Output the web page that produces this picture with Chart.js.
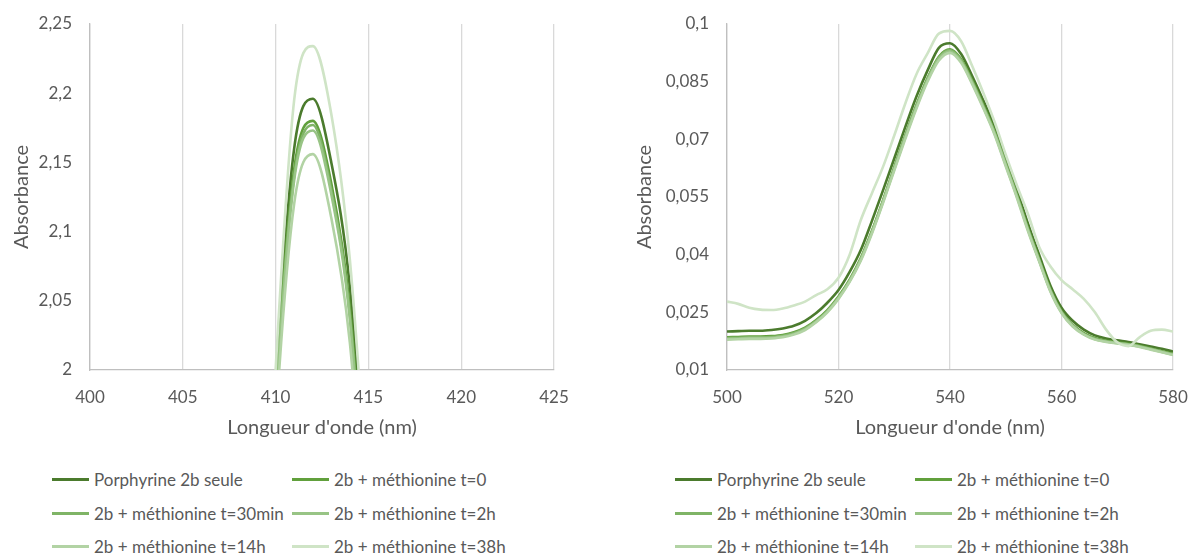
<!DOCTYPE html>
<html>
<head>
<meta charset="utf-8">
<script src="https://cdn.jsdelivr.net/npm/chart.js@4.4.1/dist/chart.umd.min.js"></script>
<style>
    body { margin: 0; background: #fff; font-family: Lato, sans-serif; }
    #page { position: relative; width: 1190px; height: 556px; overflow: hidden; }
    .box { position: absolute; top: 0; width: 595px; height: 445px; }
    .legend { position: absolute; display: grid; grid-template-columns: 240px 240px; grid-auto-rows: 33.5px; color: #595959; font-size: 17px; }
    .item { display: flex; align-items: center; white-space: nowrap; }
    .swatch { display: inline-block; width: 37px; height: 3px; margin-right: 5px; }
</style>
</head>
<body>
<div id="page">
    <div class="box" style="left:0"><canvas id="soretChart" width="595" height="445"></canvas></div>
    <div class="box" style="left:595px"><canvas id="qChart" width="595" height="445"></canvas></div>
    <div class="legend" id="soretLegend" style="left:52px; top:463px"></div>
    <div class="legend" id="qLegend" style="left:675px; top:463px"></div>
</div>
<script>
// series names + colours (same for both charts)
const seriesNames = ['Porphyrine 2b seule', '2b + méthionine t=0', '2b + méthionine t=30min',
    '2b + méthionine t=2h', '2b + méthionine t=14h', '2b + méthionine t=38h'];
const seriesColors = ['#4b7b2d', '#61a03c', '#7fb466', '#98c485', '#b2d3a4', '#cfe4c6'];

// Soret band (left) - wavelengths in nm
const soretX = [409, 410, 411, 412, 413, 414, 415];
const soretSeule = [1.72, 1.99, 2.16, 2.196, 2.15, 2.06, 1.88];
const soretT0 = [1.71, 1.98, 2.145, 2.180, 2.135, 2.045, 1.87];
const soretT30 = [1.70, 1.975, 2.14, 2.177, 2.13, 2.04, 1.865];
const soretT2h = [1.70, 1.97, 2.137, 2.173, 2.127, 2.037, 1.86];
const soretT14h = [1.69, 1.96, 2.12, 2.156, 2.11, 2.02, 1.85];
const soretT38h = [1.73, 2.0, 2.195, 2.234, 2.185, 2.08, 1.90];
const soretXTicks = [400, 405, 410, 415, 420, 425];
const soretYTicks = [2, 2.05, 2.1, 2.15, 2.2, 2.25];

// Q band (right)
const qX = [500, 502, 504, 506, 508, 510, 512, 514, 516, 518, 520, 522, 524, 526, 528, 530, 532, 534, 536, 538, 540,
    542, 544, 546, 548, 550, 552, 554, 556, 558, 560, 562, 564, 566, 568, 570, 572, 574, 576, 578, 580];
const qSeule = [0.0200, 0.0201, 0.0202, 0.0202, 0.0204, 0.0208, 0.0215, 0.0228, 0.0248, 0.0275, 0.0308, 0.0355, 0.0412, 0.0488,
    0.0568, 0.0650, 0.0733, 0.0812, 0.0880, 0.0938, 0.0950, 0.0922, 0.0864, 0.0800, 0.0734, 0.0650, 0.0569, 0.0480,
    0.0399, 0.0320, 0.0262, 0.0228, 0.0205, 0.0190, 0.0182, 0.0177, 0.0173, 0.0167, 0.0161, 0.0155, 0.0148];
const qT0 = [0.0185, 0.0186, 0.0187, 0.0187, 0.0188, 0.0191, 0.0198, 0.0210, 0.0230, 0.0256, 0.0291, 0.0335, 0.0391, 0.0462,
    0.0542, 0.0627, 0.0711, 0.0790, 0.0860, 0.0915, 0.0934, 0.0908, 0.0852, 0.0788, 0.0720, 0.0638, 0.0556, 0.0468,
    0.0388, 0.0310, 0.0253, 0.0218, 0.0196, 0.0183, 0.0176, 0.0172, 0.0168, 0.0163, 0.0156, 0.0149, 0.0142];
const qT30 = [0.0183, 0.0184, 0.0185, 0.0185, 0.0186, 0.0189, 0.0196, 0.0208, 0.0228, 0.0254, 0.0289, 0.0333, 0.0389, 0.0460,
    0.0540, 0.0625, 0.0709, 0.0788, 0.0858, 0.0913, 0.0932, 0.0906, 0.0850, 0.0786, 0.0718, 0.0636, 0.0554, 0.0466,
    0.0386, 0.0308, 0.0251, 0.0216, 0.0194, 0.0181, 0.0175, 0.0171, 0.0167, 0.0162, 0.0155, 0.0148, 0.0141];
const qT2h = [0.0181, 0.0182, 0.0183, 0.0183, 0.0184, 0.0187, 0.0194, 0.0206, 0.0226, 0.0252, 0.0287, 0.0331, 0.0387, 0.0458,
    0.0538, 0.0622, 0.0706, 0.0785, 0.0855, 0.0910, 0.0929, 0.0903, 0.0847, 0.0783, 0.0715, 0.0633, 0.0551, 0.0464,
    0.0384, 0.0306, 0.0250, 0.0215, 0.0193, 0.0180, 0.0174, 0.0170, 0.0166, 0.0161, 0.0154, 0.0147, 0.0140];
const qT14h = [0.0179, 0.0180, 0.0181, 0.0181, 0.0182, 0.0185, 0.0192, 0.0204, 0.0224, 0.0250, 0.0285, 0.0329, 0.0384, 0.0455,
    0.0535, 0.0619, 0.0702, 0.0781, 0.0851, 0.0905, 0.0925, 0.0899, 0.0843, 0.0780, 0.0712, 0.0630, 0.0548, 0.0461,
    0.0382, 0.0304, 0.0248, 0.0213, 0.0192, 0.0179, 0.0173, 0.0169, 0.0165, 0.0160, 0.0153, 0.0146, 0.0139];
const q38h = [0.0278, 0.0272, 0.0262, 0.0257, 0.0256, 0.0260, 0.0268, 0.0278, 0.0295, 0.0310, 0.0340, 0.0400, 0.0490, 0.0560,
    0.0629, 0.0710, 0.0794, 0.0870, 0.0924, 0.0975, 0.0982, 0.0955, 0.0890, 0.0820, 0.0745, 0.0660, 0.0580, 0.0505,
    0.0420, 0.0370, 0.0334, 0.0310, 0.0285, 0.0250, 0.0205, 0.0172, 0.0162, 0.0185, 0.0202, 0.0205, 0.0200];
const qXTicks = [500, 520, 540, 560, 580];
const qYTicks = [0.01, 0.025, 0.04, 0.055, 0.07, 0.085, 0.1];

const textColor = '#595959';
const fmt = v => String(Number(v.toFixed(3))).replace('.', ',');

function makeDatasets(xs, seriesList) {
    return seriesList.map((vals, i) => ({
        label: seriesNames[i],
        data: xs.map((x, j) => ({ x: x, y: vals[j] })),
        borderColor: seriesColors[i],
        backgroundColor: seriesColors[i],
        borderWidth: 2.6,
        pointRadius: 0,
        cubicInterpolationMode: 'monotone',
        fill: false,
        order: seriesList.length - i
    }));
}

function makeChart(canvasId, datasets, xr, yr, xTicks, yTicks, yWidth, padRight, titleOffset) {
    return new Chart(document.getElementById(canvasId), {
        type: 'line',
        data: { datasets: datasets },
        options: {
            responsive: false,
            animation: false,
            layout: { padding: { top: 24, right: padRight, bottom: 0, left: 0 } },
            plugins: { legend: { display: false }, tooltip: { enabled: false } },
            scales: {
                x: {
                    type: 'linear', min: xr[0], max: xr[1],
                    afterBuildTicks: a => { a.ticks = xTicks.map(v => ({ value: v })); },
                    afterFit: s => { s.height = 75; s.paddingLeft = 0; s.paddingRight = 0; },
                    grid: { color: '#d9d9d9', lineWidth: 1.3, drawTicks: false },
                    border: { color: '#bfbfbf', width: 1.3 },
                    ticks: { color: textColor, padding: 17, font: { family: 'Lato', size: 17 }, maxRotation: 0, callback: v => fmt(v) },
                    title: { display: true, text: "Longueur d'onde (nm)", color: textColor, font: { family: 'Lato', size: 20 }, padding: { top: 0, bottom: 5 } }
                },
                y: {
                    min: yr[0], max: yr[1],
                    afterBuildTicks: a => { a.ticks = yTicks.map(v => ({ value: v })); },
                    afterFit: s => { s.width = yWidth; s.paddingTop = 0; s.paddingBottom = 0; },
                    grid: { display: false, drawTicks: false },
                    border: { display: true, color: '#bfbfbf', width: 1.3 },
                    ticks: { color: textColor, padding: 18, font: { family: 'Lato', size: 17 }, callback: v => fmt(v) },
                    title: { display: true, text: 'Absorbance', color: textColor, font: { family: 'Lato', size: 20 }, padding: { top: titleOffset, bottom: 0 } }
                }
            }
        }
    });
}

function buildLegend(id) {
    const el = document.getElementById(id);
    el.innerHTML = seriesNames
        .map((name, i) => `<div class="item"><span class="swatch" style="background:${seriesColors[i]}"></span>${name}</div>`)
        .join('');
}

makeChart('soretChart', makeDatasets(soretX, [soretSeule, soretT0, soretT30, soretT2h, soretT14h, soretT38h]),
    [400, 425], [2, 2.25], soretXTicks, soretYTicks, 90, 41, 10);
makeChart('qChart', makeDatasets(qX, [qSeule, qT0, qT30, qT2h, qT14h, q38h]),
    [500, 580], [0.01, 0.1], qXTicks, qYTicks, 132, 17, 38);

buildLegend('soretLegend');
buildLegend('qLegend');
</script>
</body>
</html>
